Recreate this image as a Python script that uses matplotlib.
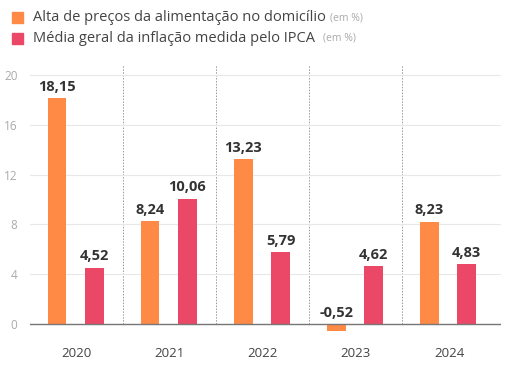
import matplotlib.pyplot as plt
import numpy as np

plt.rcParams['font.family'] = ['Open Sans', 'DejaVu Sans']

years = ['2020', '2021', '2022', '2023', '2024']
alimentacao = [18.15, 8.24, 13.23, -0.52, 8.23]
ipca = [4.52, 10.06, 5.79, 4.62, 4.83]
yticks = [0, 4, 8, 12, 16, 20]

ORANGE = '#FF8A45'
PINK = '#EB4868'

fig = plt.figure(figsize=(5.22, 3.75), dpi=100)
ax = fig.add_axes([0.0575, 0.096, 0.9025, 0.731])

x = np.arange(len(years))
w = 0.2
ax.bar(x - 0.21, alimentacao, w, color=ORANGE, zorder=3)
ax.bar(x + 0.19, ipca, w, color=PINK, zorder=3)

def fmt(v):
    return f'{v:.2f}'.replace('.', ',')

for xi, v in zip(x - 0.21, alimentacao):
    ax.text(xi, max(v, 0) + 0.35, fmt(v), ha='center', va='bottom',
            fontsize=10.5, fontweight='bold', color='#333333')
for xi, v in zip(x + 0.19, ipca):
    ax.text(xi, v + 0.35, fmt(v), ha='center', va='bottom',
            fontsize=10.5, fontweight='bold', color='#333333')

# separators between years
for s in x[:-1] + 0.5:
    ax.plot([s, s], [0, 20.8], color='#999999', lw=0.7, ls=(0, (1.5, 1.5)), zorder=1)

ax.set_xlim(-0.5, 4.56)
ax.set_ylim(-1.2, 20.8)
ax.set_yticks(yticks)
ax.set_yticklabels([str(t) for t in yticks])
ax.set_xticks(x)
ax.set_xticklabels(years)
ax.grid(axis='y', color='#e8e8e8', lw=0.8, zorder=0)
ax.axhline(0, color='#777777', lw=1.0, zorder=4)
for sp in ax.spines.values():
    sp.set_visible(False)
ax.tick_params(axis='y', length=0, labelsize=8.5, labelcolor='#aaaaaa', pad=9)
ax.tick_params(axis='x', length=0, labelsize=9.5, labelcolor='#444444', pad=6)
for lab in ax.get_yticklabels():
    lab.set_horizontalalignment('right')

# legend drawn as text
fig.patches.append(plt.Rectangle((12 / 522, 1 - 23 / 375), 11 / 522, 11 / 375,
                                 transform=fig.transFigure, color=ORANGE))
fig.patches.append(plt.Rectangle((12 / 522, 1 - 44 / 375), 11 / 522, 11 / 375,
                                 transform=fig.transFigure, color=PINK))
t1 = fig.text(33 / 522, 1 - 17.5 / 375, 'Alta de preços da alimentação no domicílio',
              fontsize=10.5, color='#444444', va='center')
t2 = fig.text(33 / 522, 1 - 38.5 / 375, 'Média geral da inflação medida pelo IPCA',
              fontsize=10.5, color='#444444', va='center')
r = fig.canvas.get_renderer()
for t, gap in [(t1, 4), (t2, 8)]:
    bb = t.get_window_extent(renderer=r)
    fig.text((bb.x1 + gap) / 522, t.get_position()[1], '(em %)',
             fontsize=7.5, color='#aaaaaa', va='center')

fig.savefig('out.png', dpi=100)
